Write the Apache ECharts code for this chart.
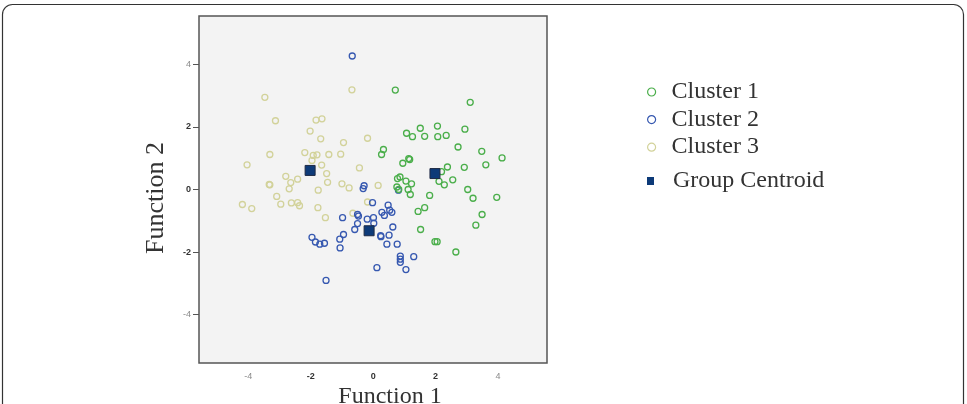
<!DOCTYPE html>
<html>
<head>
<meta charset="utf-8">
<script src="https://cdn.jsdelivr.net/npm/echarts@6/dist/echarts.min.js"></script>
<style>
html,body{margin:0;padding:0;background:#fff;}
#chart{width:967px;height:404px;}
</style>
</head>
<body>
<div id="chart"></div>
<script>
// ---- data ----
const seriesNames = ['Cluster 1', 'Cluster 2', 'Cluster 3', 'Group Centroid'];
const tickValues = [-4, -2, 0, 2, 4];

const cluster1 = [
  [0.71,3.18],[3.11,2.79],[1.51,1.96],[2.06,2.03],[1.07,1.80],[1.26,1.69],[1.65,1.70],
  [2.07,1.69],[2.34,1.73],[2.94,1.93],[2.72,1.36],[3.48,1.22],[4.13,1.01],[0.33,1.28],
  [0.27,1.12],[1.17,0.96],[1.14,0.99],[0.95,0.84],[2.38,0.72],[2.92,0.71],[3.61,0.79],
  [2.19,0.57],[2.55,0.31],[2.11,0.26],[2.28,0.15],[3.03,0.00],[3.20,-0.28],[3.96,-0.25],
  [0.78,0.35],[0.86,0.40],[1.05,0.27],[1.23,0.18],[0.76,0.08],[0.82,0.00],[1.12,0.00],
  [1.19,-0.16],[1.81,-0.19],[1.65,-0.58],[1.44,-0.70],[3.49,-0.80],[3.29,-1.14],
  [1.52,-1.28],[1.98,-1.67],[2.05,-1.67],[2.65,-2.00]
];
const cluster2 = [
  [-0.67,4.27],[-0.29,0.12],[-0.32,0.03],[-0.02,-0.42],[0.48,-0.50],[0.81,-0.02],
  [0.53,-0.66],[0.60,-0.73],[0.28,-0.73],[0.36,-0.83],[-0.50,-0.80],[-0.47,-0.85],
  [-0.98,-0.90],[-0.19,-0.95],[0.01,-0.90],[0.02,-1.08],[-0.50,-1.09],[0.63,-1.20],
  [-0.59,-1.28],[-0.95,-1.44],[0.24,-1.48],[0.25,-1.51],[0.51,-1.46],[-1.96,-1.53],
  [-1.85,-1.68],[-1.71,-1.75],[-1.56,-1.72],[-1.07,-1.59],[-1.06,-1.87],[0.44,-1.75],
  [0.77,-1.75],[0.87,-2.13],[0.87,-2.23],[0.87,-2.33],[1.30,-2.15],[0.12,-2.50],
  [1.05,-2.56],[-1.51,-2.91]
];
const cluster3 = [
  [-0.68,3.19],[-3.47,2.95],[-3.13,2.20],[-1.83,2.22],[-1.64,2.26],[-2.02,1.87],
  [-1.68,1.62],[-0.95,1.50],[-0.18,1.64],[-3.31,1.12],[-2.19,1.18],[-1.92,1.09],
  [-1.80,1.11],[-1.42,1.12],[-1.04,1.13],[-4.04,0.79],[-1.65,0.78],[-1.96,0.93],
  [-2.80,0.42],[-2.42,0.33],[-2.64,0.22],[-3.33,0.16],[-3.31,0.15],[-1.76,-0.02],
  [-2.69,0.02],[-3.09,-0.22],[-2.96,-0.47],[-4.19,-0.48],[-3.89,-0.61],[-2.62,-0.43],
  [-2.42,-0.42],[-2.36,-0.52],[-1.77,-0.58],[-0.44,0.69],[-1.49,0.51],[-1.46,0.23],
  [-1.00,0.18],[-0.77,0.05],[0.16,0.13],[-0.18,-0.40],[-0.65,-0.76],[-1.53,-0.90]
];
const centroids = [[1.98,0.51],[-0.13,-1.32],[-2.02,0.61]];

// ---- styles ----
const colors = { c1: '#4aae4a', c2: '#3658b0', c3: '#d2d29a', cent: '#0d3a78' };
const serif = '"Liberation Serif", "DejaVu Serif", serif';

function tickFmt(v) {
  return (v === -4 || v === 4) ? '{l|' + v + '}' : '{b|' + v + '}';
}
const tickRich = {
  l: { fontFamily: 'Liberation Sans, Arial', fontSize: 9, color: '#8a8a8a' },
  b: { fontFamily: 'Liberation Sans, Arial', fontSize: 9, color: '#333', fontWeight: 'bold' }
};

function circleSeries(name, data, color) {
  return {
    name: name, type: 'scatter', data: data,
    symbol: 'circle', symbolSize: 6,
    itemStyle: { color: 'rgba(0,0,0,0)', borderColor: color, borderWidth: 1.3, opacity: 1 },
    emphasis: { disabled: true }
  };
}

const legendText = { fontFamily: serif, fontSize: 24, color: '#333', lineHeight: 24 };

const chart = echarts.init(document.getElementById('chart'), null, { renderer: 'canvas' });
chart.setOption({
  animation: false,
  backgroundColor: '#fff',
  grid: {
    left: 199, top: 16, width: 348, height: 347,
    show: true, backgroundColor: '#f3f3f3', borderColor: '#555', borderWidth: 1.5
  },
  xAxis: {
    type: 'value', min: -5.58, max: 5.57,
    splitLine: { show: false },
    axisLine: { show: false, onZero: false },
    axisTick: { show: false },
    axisLabel: { customValues: tickValues, margin: 9, formatter: tickFmt, rich: tickRich }
  },
  yAxis: {
    type: 'value', min: -5.55, max: 5.55,
    splitLine: { show: false },
    axisLine: { show: false, onZero: false },
    axisTick: { show: true, customValues: tickValues, length: 6, lineStyle: { color: '#555', width: 1 } },
    axisLabel: { customValues: tickValues, margin: 8, formatter: tickFmt, rich: tickRich }
  },
  legend: [
    {
      orient: 'vertical', left: 647, top: 80, padding: 0, itemGap: 3.6,
      itemWidth: 8, itemHeight: 8,
      textStyle: Object.assign({ padding: [0, 0, 0, 11] }, legendText),
      selectedMode: false,
      data: [
        { name: 'Cluster 1', icon: 'circle', itemStyle: { color: 'rgba(0,0,0,0)', borderColor: colors.c1, borderWidth: 1.2 } },
        { name: 'Cluster 2', icon: 'circle', itemStyle: { color: 'rgba(0,0,0,0)', borderColor: colors.c2, borderWidth: 1.2 } },
        { name: 'Cluster 3', icon: 'circle', itemStyle: { color: 'rgba(0,0,0,0)', borderColor: colors.c3, borderWidth: 1.2 } }
      ]
    },
    {
      orient: 'vertical', left: 647, top: 169, padding: 0,
      itemWidth: 7, itemHeight: 8,
      textStyle: Object.assign({ padding: [0, 0, 0, 14] }, legendText),
      selectedMode: false,
      data: [
        { name: 'Group Centroid', icon: 'rect', itemStyle: { color: colors.cent, borderWidth: 0, opacity: 1 } }
      ]
    }
  ],
  graphic: [
    {
      type: 'rect', z: -1, silent: true,
      shape: { x: 2.5, y: 4.5, width: 961, height: 440, r: 10 },
      style: { fill: 'none', stroke: '#333', lineWidth: 1.2 }
    },
    {
      type: 'text', silent: true, x: 390, y: 397,
      style: { text: 'Function 1', fontFamily: serif, fontSize: 24, fill: '#333', align: 'center', verticalAlign: 'middle' }
    },
    {
      type: 'text', silent: true, x: 156, y: 198, rotation: Math.PI / 2,
      style: { text: 'Function 2', fontFamily: serif, fontSize: 26, fill: '#333', align: 'center', verticalAlign: 'middle' }
    }
  ],
  series: [
    circleSeries(seriesNames[2], cluster3, colors.c3),
    circleSeries(seriesNames[1], cluster2, colors.c2),
    circleSeries(seriesNames[0], cluster1, colors.c1),
    {
      name: seriesNames[3], type: 'scatter', data: centroids,
      symbol: 'rect', symbolSize: 10,
      itemStyle: { color: colors.cent, borderColor: '#1e2a44', borderWidth: 1, opacity: 1 },
      emphasis: { disabled: true }, z: 5
    }
  ]
});
</script>
</body>
</html>
